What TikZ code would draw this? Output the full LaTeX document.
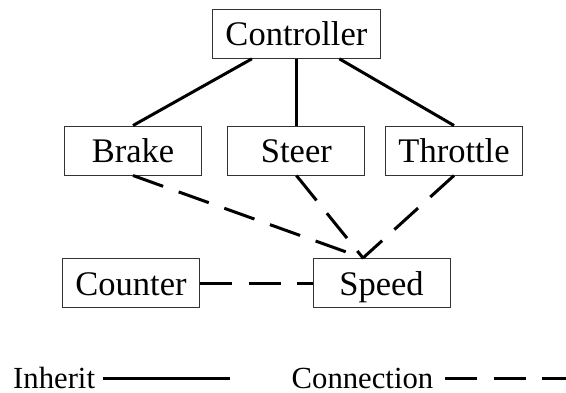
\documentclass[tikz,border=0pt]{standalone}
\usepackage{fontspec}
\setmainfont{Liberation Serif}
\begin{document}
\begin{tikzpicture}[x=1pt,y=-1pt,
  box/.style={draw=black!80, line width=1pt, minimum height=49pt, inner sep=0pt,
    text height=24pt, text depth=0pt, font=\fontsize{34.5}{40}\selectfont},
  legend/.style={inner sep=0pt, anchor=base west, font=\fontsize{30.7}{36}\selectfont},
  inh/.style={line width=3pt},
  conn/.style={line width=3pt, dash pattern=on 32pt off 16.5pt}]
\useasboundingbox (0,0) rectangle (566,392);
\node[box, minimum width=168pt] (ctrl) at (296.4,33.8) {Controller};
\node[box, minimum width=137pt] (brake) at (133,150.5) {Brake};
\node[box, minimum width=137pt] (steer) at (296.4,150.5) {Steer};
\node[box, minimum width=137pt] (thr) at (454,150.5) {Throttle};
\node[box, minimum width=137pt] (counter) at (131,283) {Counter};
\node[box, minimum width=137pt] (speed) at (381.5,283) {Speed};
\coordinate (hub) at ([xshift=-18.5pt]speed.north);
\draw[inh] (ctrl) -- (brake.north);
\draw[inh] (ctrl.south) -- (steer.north);
\draw[inh] (ctrl) -- (thr.north);
\draw[conn] (brake.south) -- (hub);
\draw[conn] (steer.south) -- (hub);
\draw[conn] (thr.south) -- (hub);
\draw[conn] (counter.east) -- (speed.west);
\node[legend] (linh) at (13,388.5) {Inherit};
\coordinate (i1) at (103,378);
\coordinate (i2) at (230,378);
\draw[inh] (i1) -- (i2);
\node[legend] (lconn) at (291.5,388.5) {Connection};
\coordinate (c1) at (445,378);
\coordinate (c2) at (566,378);
\draw[conn] (c1) -- (c2);
\end{tikzpicture}
\end{document}
